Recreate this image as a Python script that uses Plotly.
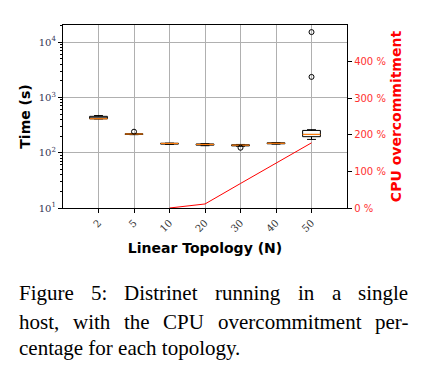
import plotly.graph_objects as go

categories = ["2", "5", "10", "20", "30", "40", "50"]
q1 = [410, 214, 143, 137, 133, 145, 195]
median = [412, 218, 147, 141, 137, 148, 214]
q3 = [455, 220, 148, 144, 139, 151, 253]
lower = [408, 212, 141, 134, 131, 143, 174]
upper = [470, 222, 149, 146, 141, 153, 261]
outlier_cat = [2, 5, 7, 7]
outlier_val = [240, 123, 2350, 15200]
cpu_over = [None, None, 0, 11, 67, 122, 178]

pos = list(range(1, len(categories) + 1))

W, H = 431, 377
L, R, T, B = 63, 346.7, 25, 208.3

fig = go.Figure()
for i, p in enumerate(pos):
    fig.add_trace(go.Box(
        x=[p], q1=[q1[i]], median=[median[i]], q3=[q3[i]],
        lowerfence=[lower[i]], upperfence=[upper[i]],
        width=0.5, whiskerwidth=0.5, boxpoints=False,
        line=dict(color="black", width=1), fillcolor="white",
        showlegend=False, hoverinfo="skip"))

mx, my = [], []
for i, p in enumerate(pos):
    mx += [p - 0.25, p + 0.25, None]
    my += [median[i], median[i], None]
fig.add_trace(go.Scatter(x=mx, y=my, mode="lines",
                         line=dict(color="#ff7f0e", width=1.2),
                         showlegend=False, hoverinfo="skip"))

fig.add_trace(go.Scatter(x=outlier_cat, y=outlier_val, mode="markers",
                         marker=dict(symbol="circle-open", size=5,
                                     color="black", line=dict(width=1)),
                         showlegend=False))

fig.add_trace(go.Scatter(x=pos, y=cpu_over, mode="lines", yaxis="y2",
                         line=dict(color="red", width=1),
                         connectgaps=False, showlegend=False))

fig.update_layout(
    width=W, height=H,
    margin=dict(l=L, r=W - R, t=T, b=H - B),
    paper_bgcolor="white", plot_bgcolor="white",
    xaxis=dict(
        range=[0, 8], tickvals=pos, ticktext=categories,
        tickangle=-45, ticks="outside", ticklen=4, tickcolor="black",
        showline=True, linecolor="black", linewidth=1.3, mirror=True,
        showgrid=True, gridcolor="#b0b0b0", gridwidth=1, zeroline=False,
        tickfont=dict(family="DejaVu Serif", size=10, color="#333"),
        title=dict(text="<b>Linear Topology (N)</b>", standoff=10,
                   font=dict(family="DejaVu Sans", size=14, color="black")),
    ),
    yaxis=dict(
        type="log", range=[1, 4.31],
        tickvals=[10, 100, 1000, 10000],
        ticktext=["10<sup>1</sup>", "10<sup>2</sup>", "10<sup>3</sup>", "10<sup>4</sup>"],
        ticks="outside", ticklen=4, tickcolor="black",
        minor=dict(ticks="outside", ticklen=2, tickcolor="black", dtick="D1", showgrid=False),
        showline=True, linecolor="black", linewidth=1.3,
        showgrid=True, gridcolor="#b0b0b0", gridwidth=1, zeroline=False,
        tickfont=dict(family="DejaVu Serif", size=10, color="#333355"),
        title=dict(text="<b>Time (s)</b>", standoff=4,
                   font=dict(family="DejaVu Sans", size=14, color="black")),
    ),
    yaxis2=dict(
        overlaying="y", side="right", range=[0, 500],
        tickvals=[0, 100, 200, 300, 400],
        ticktext=["0 %", "100 %", "200 %", "300 %", "400 %"],
        ticks="outside", ticklen=4, tickcolor="black",
        showline=True, linecolor="black", linewidth=1.3,
        showgrid=False, zeroline=False,
        tickfont=dict(family="DejaVu Sans", size=10, color="#ff3030"),
        title=dict(text="<b>CPU overcommitment</b>", standoff=6,
                   font=dict(family="DejaVu Sans", size=14, color="red")),
    ),
)

# caption, justified like the paper
def px2paper(x, y):
    return (x - L) / (R - L), (B - y) / (B - T)

lines = [
    (293, [("Figure", 16.7), ("5:", 88.8), ("Distrinet", 122.4), ("running", 213.2),
           ("in", 295.8), ("a", 329.4), ("single", 356.0)]),
    (322, [("host,", 16.7), ("with", 70.7), ("the", 121.7), ("CPU", 161.1),
           ("overcommitment", 215.6), ("per-", 372.7)]),
    (349, [("centage for each topology.", 16.7)]),
]
for yy, words in lines:
    for w, xx in words:
        ax, ay = px2paper(xx, yy)
        fig.add_annotation(text=w, x=ax, y=ay, xref="paper", yref="paper",
                           xanchor="left", yanchor="middle", showarrow=False,
                           font=dict(family="Liberation Serif", size=21, color="black"))

fig.write_html("out.html", config={"displayModeBar": False},
               post_script="document.body.style.margin='0';")
